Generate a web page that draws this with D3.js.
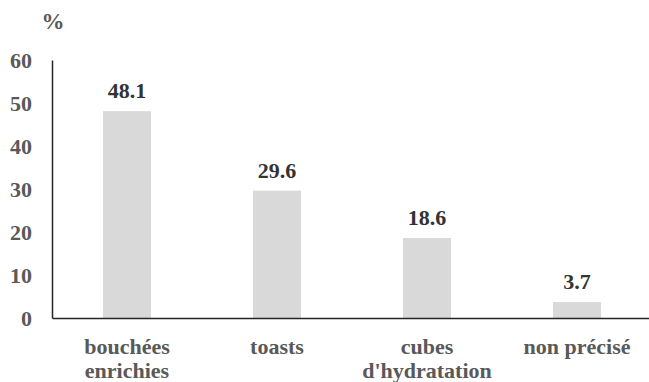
<!DOCTYPE html>
<html>
<head>
<meta charset="utf-8">
<script src="https://cdn.jsdelivr.net/npm/d3@7"></script>
<style>
  html, body { margin: 0; padding: 0; background: #fff; }
  svg { display: block; }
</style>
</head>
<body>
<svg id="chart" width="649" height="382"></svg>
<script>
const categories = [["bouchées", "enrichies"], ["toasts"], ["cubes", "d'hydratation"], ["non précisé"]];
const values = [48.1, 29.6, 18.6, 3.7];
const yTicks = [0, 10, 20, 30, 40, 50, 60];
const yUnit = "%";

const FONT = "'Liberation Serif'";

const svg = d3.select("#chart");
const margin = { left: 52, right: -3, top: 60, bottom: 64 };
const W = 649, H = 382;

const x = d3.scaleBand()
  .domain(categories.map((d, i) => i))
  .range([margin.left, W - margin.right])
  .paddingInner(0.68)
  .paddingOuter(0.34);

const y = d3.scaleLinear().domain([0, 60]).range([H - margin.bottom, margin.top]);

// bars
svg.selectAll("rect.bar")
  .data(values)
  .join("rect")
  .attr("class", "bar")
  .attr("x", (d, i) => x(i))
  .attr("width", x.bandwidth())
  .attr("y", d => y(d))
  .attr("height", d => y(0) - y(d))
  .attr("fill", "#d9d9d9");

// value labels
svg.selectAll("text.val")
  .data(values)
  .join("text")
  .attr("class", "val")
  .attr("x", (d, i) => x(i) + x.bandwidth() / 2)
  .attr("y", d => y(d) - 13)
  .attr("text-anchor", "middle")
  .style("font-family", FONT)
  .style("font-weight", "bold")
  .style("font-size", "22px")
  .attr("fill", "#333333")
  .text(d => d.toFixed(1));

// y axis
const yAxis = d3.axisLeft(y).tickValues(yTicks).tickSize(0).tickPadding(20);
const gy = svg.append("g").attr("transform", `translate(${margin.left},0)`).call(yAxis);
gy.select(".domain").attr("stroke", "#262626").attr("stroke-width", 1.5);
gy.selectAll("text")
  .style("font-family", FONT)
  .style("font-weight", "bold")
  .style("font-size", "22px")
  .attr("fill", "#595959");

// x axis
const xAxis = d3.axisBottom(x).tickSize(0).tickFormat("");
const gx = svg.append("g").attr("transform", `translate(0,${y(0)})`).call(xAxis);
gx.select(".domain").attr("stroke", "#262626").attr("stroke-width", 1.5);

// category labels
const cat = svg.selectAll("text.cat")
  .data(categories)
  .join("text")
  .attr("class", "cat")
  .attr("x", (d, i) => x(i) + x.bandwidth() / 2)
  .attr("y", y(0) + 36)
  .attr("text-anchor", "middle")
  .style("font-family", FONT)
  .style("font-weight", "bold")
  .style("font-size", "22px")
  .attr("fill", "#595959");
cat.selectAll("tspan")
  .data(d => d)
  .join("tspan")
  .attr("x", function () { return this.parentNode.getAttribute("x"); })
  .attr("dy", (d, i) => i === 0 ? 0 : 24)
  .text(d => d);

// unit label
svg.append("text")
  .attr("x", margin.left + 1)
  .attr("y", 29)
  .attr("text-anchor", "middle")
  .style("font-family", FONT)
  .style("font-weight", "bold")
  .style("font-size", "23px")
  .attr("fill", "#595959")
  .text(yUnit);
</script>
</body>
</html>
